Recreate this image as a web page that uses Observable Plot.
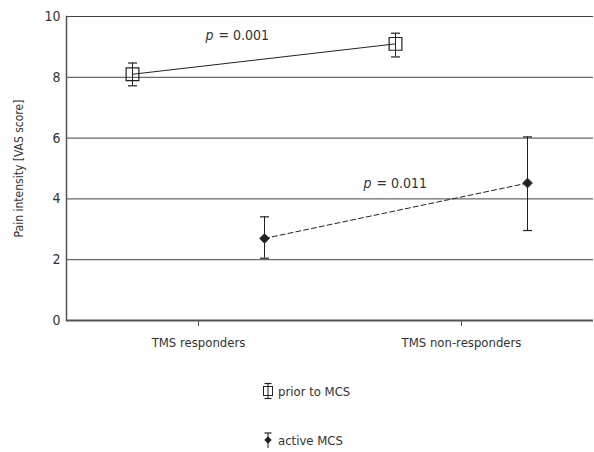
<!DOCTYPE html>
<html>
<head>
<meta charset="utf-8">
<script src="https://cdn.jsdelivr.net/npm/d3@7"></script>
<script src="https://cdn.jsdelivr.net/npm/@observablehq/plot@0.6"></script>
<style>
  body { margin: 0; background: #fff; }
  #wrap { position: relative; width: 594px; height: 452px; font-family: "DejaVu Sans", sans-serif; font-stretch: condensed; color: #333; }
  #wrap svg text { font-stretch: condensed; }
  .leg { position: absolute; left: 262px; display: flex; align-items: center; font-size: 13px; font-stretch: condensed; }
  .leg svg { margin-right: 4px; }
</style>
</head>
<body>
<div id="wrap"></div>
<script>
// ---- data ----
const groups = ["TMS responders", "TMS non-responders"];
const priorMean = [8.1, 9.1];
const priorLow  = [7.72, 8.67];
const priorHigh = [8.47, 9.45];
const activeMean = [2.7, 4.52];
const activeLow  = [2.05, 2.96];
const activeHigh = [3.41, 6.04];
const yTicks = [0, 2, 4, 6, 8, 10];
const gridValues = [2, 4, 6, 8, 10];
const pLabels = ["= 0.001", "= 0.011"];
const pY = [9.38, 4.52];
const pGroup = ["TMS responders", "TMS non-responders"];
const legendLabels = ["prior to MCS", "active MCS"];

const prior = groups.map((g, i) => ({group: g, mean: priorMean[i], lo: priorLow[i], hi: priorHigh[i]}));
const active = groups.map((g, i) => ({group: g, mean: activeMean[i], lo: activeLow[i], hi: activeHigh[i]}));
const pData = pLabels.map((t, i) => ({t, y: pY[i], g: pGroup[i]}));

const cap = {draw(ctx) { ctx.moveTo(-4.5, 0); ctx.lineTo(4.5, 0); }};
const ink = "#222";
const txt = "#333";
const off = 66;

function pMarks(d, dx) {
  return [
    Plot.text([d], {x: "g", y: "y", text: () => "p", dx: dx, fontStyle: "italic", fontSize: 14, textAnchor: "end", fill: txt}),
    Plot.text([d], {x: "g", y: "y", text: "t", dx: dx + 5, fontSize: 14, textAnchor: "start", fill: txt})
  ];
}

const chart = Plot.plot({
  width: 594,
  height: 360,
  marginLeft: 66,
  marginRight: 1,
  marginTop: 16,
  marginBottom: 40,
  style: {fontFamily: "'DejaVu Sans', sans-serif", color: txt, background: "#fff"},
  x: {type: "point", domain: groups, padding: 0.5, label: null},
  y: {domain: [0, 10], label: null},
  marks: [
    Plot.ruleY(gridValues, {stroke: "#444", strokeWidth: 1}),
    Plot.frame({anchor: "left", stroke: "#555", strokeWidth: 1.5}),
    Plot.axisY({ticks: yTicks, tickSize: 0, tickPadding: 6, fontSize: 14, label: null}),
    Plot.axisX({tickSize: 6, tickPadding: 11, fontSize: 13, label: null, stroke: "#555"}),
    Plot.text(["Pain intensity [VAS score]"], {frameAnchor: "left", textAnchor: "middle", dx: -47, rotate: -90, fontSize: 12, fill: txt}),
    // connecting lines
    Plot.line(prior, {x: "group", y: "mean", dx: -off, stroke: ink, strokeWidth: 1}),
    Plot.line(active, {x: "group", y: "mean", dx: off, stroke: ink, strokeWidth: 1, strokeDasharray: "5,3"}),
    // error bars
    Plot.ruleX(prior, {x: "group", y1: "lo", y2: "hi", dx: -off, stroke: ink, strokeWidth: 1}),
    Plot.ruleX(active, {x: "group", y1: "lo", y2: "hi", dx: off, stroke: ink, strokeWidth: 1}),
    Plot.dot(prior, {x: "group", y: "lo", dx: -off, symbol: cap, stroke: ink, strokeWidth: 1.2}),
    Plot.dot(prior, {x: "group", y: "hi", dx: -off, symbol: cap, stroke: ink, strokeWidth: 1.2}),
    Plot.dot(active, {x: "group", y: "lo", dx: off, symbol: cap, stroke: ink, strokeWidth: 1.2}),
    Plot.dot(active, {x: "group", y: "hi", dx: off, symbol: cap, stroke: ink, strokeWidth: 1.2}),
    // markers
    Plot.dot(prior, {x: "group", y: "mean", dx: -off, symbol: "square", r: 7.2, fill: "none", stroke: ink, strokeWidth: 1.2}),
    Plot.dot(active, {x: "group", y: "mean", dx: off, symbol: "square", r: 4, rotate: 45, fill: ink, stroke: ink, strokeWidth: 0.5}),
    // p-values
    ...pMarks(pData[0], 15),
    ...pMarks(pData[1], -90),
    // top & bottom lines
    Plot.ruleY([10], {stroke: "#444", strokeWidth: 1}),
    Plot.ruleY([0], {stroke: "#555", strokeWidth: 2})
  ]
});

const wrap = document.getElementById("wrap");
wrap.appendChild(chart);

// legend (HTML below the SVG)
function legendItem(label, kind, top) {
  const div = document.createElement("div");
  div.className = "leg";
  div.style.top = top + "px";
  let sym;
  if (kind === "prior") {
    sym = `<svg width="12" height="18" viewBox="-6 -9 12 18">
      <line x1="0" y1="-7.5" x2="0" y2="7.5" stroke="${ink}" stroke-width="1"/>
      <line x1="-3.5" y1="-7.5" x2="3.5" y2="-7.5" stroke="${ink}" stroke-width="1.2"/>
      <line x1="-3.5" y1="7.5" x2="3.5" y2="7.5" stroke="${ink}" stroke-width="1.2"/>
      <rect x="-4.5" y="-4.5" width="9" height="9" fill="none" stroke="${ink}" stroke-width="1"/>
    </svg>`;
  } else {
    sym = `<svg width="12" height="18" viewBox="-6 -9 12 18">
      <line x1="0" y1="-7" x2="0" y2="8" stroke="${ink}" stroke-width="1"/>
      <line x1="-3.5" y1="-7" x2="3.5" y2="-7" stroke="${ink}" stroke-width="1.2"/>
      <rect x="-2.6" y="-2.6" width="5.2" height="5.2" fill="${ink}" transform="rotate(45)"/>
    </svg>`;
  }
  div.innerHTML = sym + `<span>${label}</span>`;
  wrap.appendChild(div);
}
legendItem(legendLabels[0], "prior", 382);
legendItem(legendLabels[1], "active", 431);
</script>
</body>
</html>
